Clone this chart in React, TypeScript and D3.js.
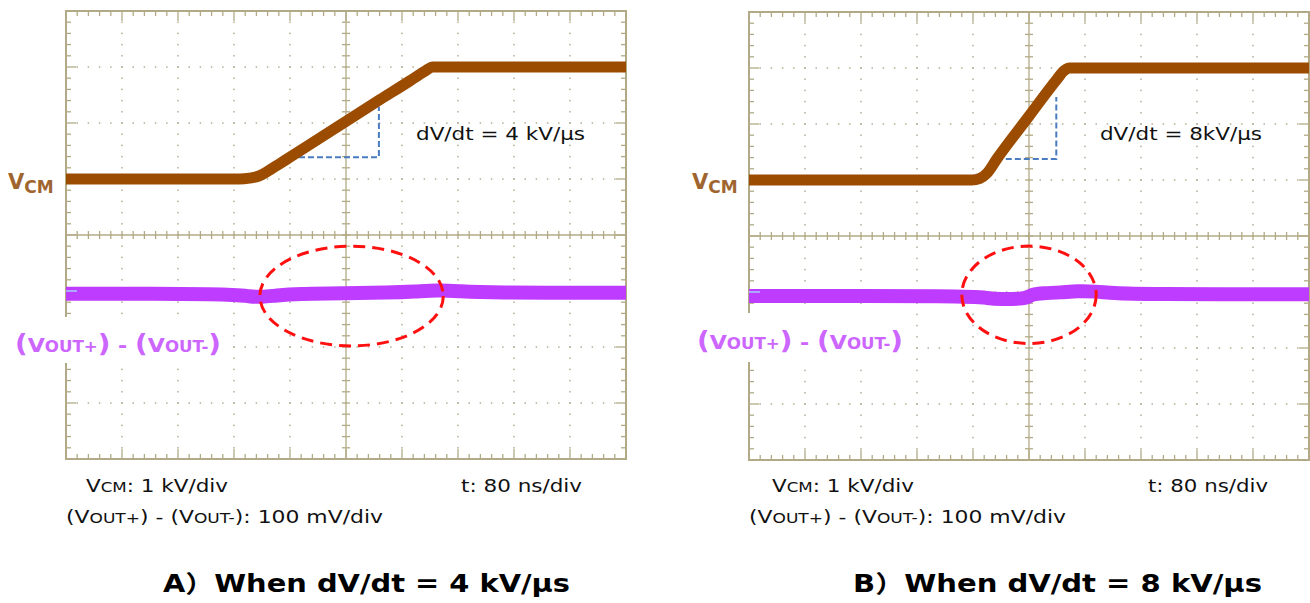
import React from 'react';
import * as d3 from 'd3';

// ---------- data ----------
// time axis: 80 ns/div, 10 divisions
const timeDomain: [number, number] = [0, 800];
// V_CM channel: 1 kV/div, 8 divisions
const vcmDomain: [number, number] = [-5, 3];
// (VOUT+)-(VOUT-) channel: 100 mV/div, 8 divisions
const voutDomain: [number, number] = [-300, 500];

// Panel A (4 kV/us)
const aVcmTime = [0, 248, 262, 277, 291, 305, 320, 377, 400, 449, 491, 512, 524, 800];
const aVcmKV = [0, 0, 0.015, 0.06, 0.16, 0.27, 0.39, 0.845, 1.03, 1.42, 1.75, 1.92, 2.0, 2.0];
const aVoutTime = [0, 240, 262, 280, 300, 330, 400, 460, 500, 530, 560, 600, 800];
const aVoutMV = [-5, -5, -10, -11, -8, -5, -4, -3, -1, 1.5, 0, -3, -3];
const aGuideTime = [320, 447, 447];
const aGuideKV = [0.39, 0.39, 1.29];
const aEllipse = { t: 408, mV: -9, rt: 131, rmV: 89 };

// Panel B (8 kV/us)
const bVcmTime = [0, 318, 330, 340, 354, 400, 440, 450, 458, 800];
const bVcmKV = [0, 0, 0.03, 0.12, 0.375, 1.14, 1.8, 1.95, 2.0, 2.0];
const bVoutTime = [0, 320, 340, 360, 390, 398, 404, 420, 445, 470, 495, 520, 560, 800];
const bVoutMV = [-7, -7, -11, -13, -12, -10, -4, -2, -1, 2, 1, -2, -4, -4];
const bGuideTime = [354, 439, 439];
const bGuideKV = [0.375, 0.375, 1.48];
const bEllipse = { t: 400, mV: -5, rt: 96, rmV: 87 };

const slopeLabels = ['dV/dt = 4 kV/μs', 'dV/dt = 8kV/μs'];
const titles = ['A）When dV/dt = 4 kV/μs', 'B）When dV/dt = 8 kV/μs'];
const timeScaleLabel = 't: 80 ns/div';
const vcmScaleLabel = ': 1 kV/div';
const voutScaleLabel = '): 100 mV/div';

// ---------- style ----------
const FONT = "'DejaVu Sans', Verdana, 'Noto Sans CJK JP', sans-serif";
const GRID = '#b2aa86';
const DOT = '#b4ad94';
const BROWN = '#9b4c00';
const BROWN_LABEL = '#a0652f';
const PURPLE = '#bd3cff';
const PURPLE_LABEL = '#cc66ff';
const BLUE = '#4a7cc0';
const RED = '#ff1010';

type PanelProps = {
  left: number;
  top: number;
  vcmT: number[];
  vcmV: number[];
  voutT: number[];
  voutV: number[];
  guideT: number[];
  guideV: number[];
  ellipse: { t: number; mV: number; rt: number; rmV: number };
  slopeLabel: string;
  title: string;
  layout: {
    vcmLabelX: number;
    voutLabelX: number;
    voutLabelY: number;
    voutLabelW: number;
    voutBox: [number, number, number, number];
    slopeX: number;
    slopeW: number;
    line1X: number;
    line1W: number;
    tX: number;
    tW: number;
    line2W: number;
    titleX: number;
    titleW: number;
  };
};

function Panel(p: PanelProps) {
  const W = 560;
  const H = 448;
  const x = d3.scaleLinear().domain(timeDomain).range([p.left, p.left + W]);
  const yV = d3.scaleLinear().domain(vcmDomain).range([p.top + H, p.top]);
  const yO = d3.scaleLinear().domain(voutDomain).range([p.top + H, p.top]);

  const majorT = d3.range(0, 11).map((i) => i * 80);
  const minorT = d3.range(0, 51).map((i) => i * 16);
  const majorV = d3.range(0, 9).map((i) => -5 + i);
  const minorV = d3.range(0, 41).map((i) => -5 + i * 0.2);
  const centerT = 400;
  const centerV = -1;
  const x0 = x(0), x1 = x(800), yb = yV(-5), yt = yV(3);
  const xc = x(centerT), yc = yV(centerV);

  const vcmLine = d3
    .line<number>()
    .x((_, i) => x(p.vcmT[i]))
    .y((d) => yV(d))
    .curve(d3.curveMonotoneX);
  const voutLine = d3
    .line<number>()
    .x((_, i) => x(p.voutT[i]))
    .y((d) => yO(d))
    .curve(d3.curveBasis);
  const guideLine = d3
    .line<number>()
    .x((_, i) => x(p.guideT[i]))
    .y((d) => yV(d));

  const L = p.layout;
  const dots: JSX.Element[] = [];
  majorT.forEach((t) => {
    if (t === 0 || t === 800 || t === centerT) return;
    minorV.forEach((v, j) => {
      if (j === 0 || j === 40) return;
      dots.push(<rect key={`dv${t}_${j}`} x={x(t) - 0.75} y={yV(v) - 0.75} width={1.5} height={1.5} fill={DOT} />);
    });
  });
  majorV.forEach((v) => {
    if (v === -5 || v === 3 || v === centerV) return;
    minorT.forEach((t, j) => {
      if (j === 0 || j === 50) return;
      dots.push(<rect key={`dh${v}_${j}`} x={x(t) - 0.75} y={yV(v) - 0.75} width={1.5} height={1.5} fill={DOT} />);
    });
  });

  const ticks: JSX.Element[] = [];
  minorT.forEach((t, j) => {
    const len = t % 80 === 0 ? 10 : 5;
    ticks.push(<line key={`tt${j}`} x1={x(t)} x2={x(t)} y1={yt} y2={yt + len} />);
    ticks.push(<line key={`tb${j}`} x1={x(t)} x2={x(t)} y1={yb} y2={yb - len} />);
    ticks.push(<line key={`tc${j}`} x1={x(t)} x2={x(t)} y1={yc - 4} y2={yc + 4} />);
  });
  minorV.forEach((v, j) => {
    const len = j % 5 === 0 ? 10 : 5;
    ticks.push(<line key={`tl${j}`} x1={x0} x2={x0 + len} y1={yV(v)} y2={yV(v)} />);
    ticks.push(<line key={`tr${j}`} x1={x1} x2={x1 - len} y1={yV(v)} y2={yV(v)} />);
    ticks.push(<line key={`tm${j}`} x1={xc - 4} x2={xc + 4} y1={yV(v)} y2={yV(v)} />);
  });

  const e = p.ellipse;
  return (
    <g>
      <g>{dots}</g>
      <g stroke={GRID} strokeWidth={1.3}>
        {ticks}
        <line x1={xc} x2={xc} y1={yt} y2={yb} />
        <line x1={x0} x2={x1} y1={yc} y2={yc} />
      </g>
      <rect x={x0} y={yt} width={x1 - x0} height={yb - yt} fill="none" stroke={GRID} strokeWidth={2} />

      <path d={guideLine(p.guideV) || ''} fill="none" stroke={BLUE} strokeWidth={2} strokeDasharray="6 3" />
      <path d={vcmLine(p.vcmV) || ''} fill="none" stroke={BROWN} strokeWidth={11} />
      <path d={voutLine(p.voutV) || ''} fill="none" stroke={PURPLE} strokeWidth={14} />
      <line x1={x0} x2={x0 + 11} y1={yO(0)} y2={yO(0)} stroke="#a9c4ff" strokeWidth={2} opacity={0.8} />

      <ellipse
        cx={x(e.t)}
        cy={yO(e.mV)}
        rx={x(e.rt) - x(0)}
        ry={yO(0) - yO(e.rmV)}
        fill="none"
        stroke={RED}
        strokeWidth={3}
        strokeDasharray="12 7"
      />

      {/* channel labels */}
      <text x={L.vcmLabelX} y={189} fill={BROWN_LABEL} fontFamily={FONT} fontWeight="bold" fontSize={21}>
        V<tspan fontSize={17} dy={4}>CM</tspan>
      </text>
      <rect x={L.voutBox[0]} y={L.voutBox[1]} width={L.voutBox[2]} height={L.voutBox[3]} fill="#ffffff" />
      <text
        x={L.voutLabelX}
        y={L.voutLabelY}
        fill={PURPLE_LABEL}
        fontFamily={FONT}
        fontWeight="bold"
        fontSize={20}
        textLength={L.voutLabelW}
        lengthAdjust="spacingAndGlyphs"
      >
        <tspan fontSize={25}>(</tspan>V<tspan fontSize={15}>OUT+</tspan>
        <tspan fontSize={25}>)</tspan> - <tspan fontSize={25}>(</tspan>V<tspan fontSize={15}>OUT-</tspan>
        <tspan fontSize={25}>)</tspan>
      </text>

      <text x={L.slopeX} y={140} fill="#111" fontFamily={FONT} fontSize={18} textLength={L.slopeW} lengthAdjust="spacingAndGlyphs">
        {p.slopeLabel}
      </text>

      {/* scale notes */}
      <text x={L.line1X} y={492} fill="#111" fontFamily={FONT} fontSize={18} textLength={L.line1W} lengthAdjust="spacingAndGlyphs">
        V<tspan fontSize={14}>CM</tspan>
        {vcmScaleLabel}
      </text>
      <text x={L.tX} y={492} fill="#111" fontFamily={FONT} fontSize={18} textLength={L.tW} lengthAdjust="spacingAndGlyphs">
        {timeScaleLabel}
      </text>
      <text x={x0} y={523} fill="#111" fontFamily={FONT} fontSize={18} textLength={L.line2W} lengthAdjust="spacingAndGlyphs">
        (V<tspan fontSize={14}>OUT+</tspan>) - (V<tspan fontSize={14}>OUT-</tspan>
        {voutScaleLabel}
      </text>

      <text x={L.titleX} y={592} fill="#000" fontFamily={FONT} fontWeight="bold" fontSize={24} textLength={L.titleW} lengthAdjust="spacingAndGlyphs">
        {p.title}
      </text>
    </g>
  );
}

export default function App() {
  return (
    <svg
      width={1310}
      height={603}
      viewBox="0 0 1310 603"
      style={{ position: 'absolute', left: 0, top: 0, background: '#fff' }}
    >
      <rect x={0} y={0} width={1310} height={603} fill="#fff" />
      <Panel
        left={66}
        top={11}
        vcmT={aVcmTime}
        vcmV={aVcmKV}
        voutT={aVoutTime}
        voutV={aVoutMV}
        guideT={aGuideTime}
        guideV={aGuideKV}
        ellipse={aEllipse}
        slopeLabel={slopeLabels[0]}
        title={titles[0]}
        layout={{
          vcmLabelX: 8,
          voutLabelX: 15,
          voutLabelY: 352,
          voutLabelW: 206,
          voutBox: [10, 317, 216, 46],
          slopeX: 416,
          slopeW: 169,
          line1X: 86,
          line1W: 142,
          tX: 461,
          tW: 121,
          line2W: 317,
          titleX: 163,
          titleW: 407,
        }}
      />
      <Panel
        left={749}
        top={12}
        vcmT={bVcmTime}
        vcmV={bVcmKV}
        voutT={bVoutTime}
        voutV={bVoutMV}
        guideT={bGuideTime}
        guideV={bGuideKV}
        ellipse={bEllipse}
        slopeLabel={slopeLabels[1]}
        title={titles[1]}
        layout={{
          vcmLabelX: 692,
          voutLabelX: 697,
          voutLabelY: 349,
          voutLabelW: 206,
          voutBox: [692, 313, 216, 49],
          slopeX: 1100,
          slopeW: 162,
          line1X: 772,
          line1W: 142,
          tX: 1148,
          tW: 120,
          line2W: 317,
          titleX: 853,
          titleW: 409,
        }}
      />
    </svg>
  );
}
